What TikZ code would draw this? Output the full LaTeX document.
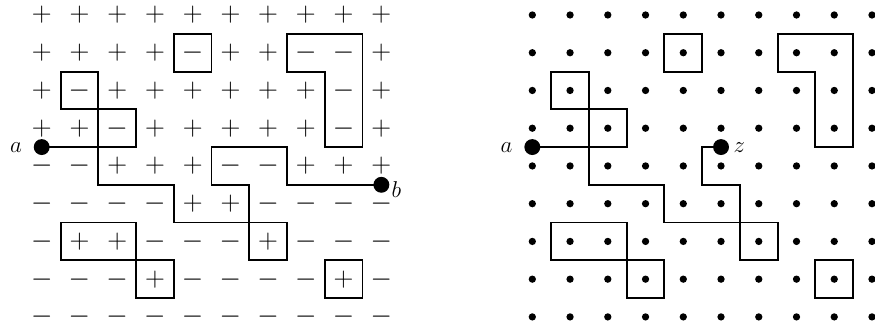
\documentclass[tikz,border=0pt]{standalone}
\usetikzlibrary{positioning}

\begin{document}
\begin{tikzpicture}[
    sgn/.style={inner sep=0pt, font=\fontsize{20.5}{24}\selectfont},
    site/.style={circle, fill, minimum size=5.5pt, inner sep=0pt},
    endpt/.style={circle, fill, minimum size=12pt, inner sep=0pt},
    lbl/.style={inner sep=0pt, font=\fontsize{18}{21}\selectfont},
    wall/.style={line width=1.4pt},
    ]
    \useasboundingbox (-1.105,0.397) rectangle (22.08,-8.135);

    % spins of the left sample
    \foreach \row [count=\j from 0] in {
        {+,+,+,+,+,+,+,+,+,+},
        {+,+,+,+,-,+,+,-,-,+},
        {+,-,+,+,+,+,+,+,-,+},
        {+,+,-,+,+,+,+,+,-,+},
        {-,-,+,+,+,-,-,+,+,+},
        {-,-,-,-,+,+,-,-,-,-},
        {-,+,+,-,-,-,+,-,-,-},
        {-,-,-,+,-,-,-,-,+,-},
        {-,-,-,-,-,-,-,-,-,-}}{
        \foreach \s [count=\i from 0] in \row
            \node[sgn] (s-\i-\j) at (\i,-\j) {$\s$};
    }

    % sites of the right sample
    \foreach \i in {0,...,9}
        \foreach \j in {0,...,8}
            \node[site] (d-\i-\j) at (13+\i,-\j) {};

    % end points
    \node[endpt] (a)  at (0,-3.5)  {};
    \node[endpt] (b)  at (9,-4.5)  {};
    \node[endpt] (a2) at (13,-3.5) {};
    \node[endpt] (z)  at (18,-3.5) {};
    \node[lbl, left=0.30cm of a]  (la)  {$a$};
    \node[lbl, left=0.30cm of a2] (la2) {$a$};
    \node[lbl] (lb) at ([shift={(0.4,-0.12)}]b) {$b$};
    \node[lbl, right=0.11cm of z] (lz) {$z$};

    % closed contours (same in both samples)
    \foreach \dx in {0,13}{
        \begin{scope}[xshift=\dx cm]
            \draw[wall] (0.5,-1.5) rectangle (1.5,-2.5);
            \draw[wall] (1.5,-2.5) rectangle (2.5,-3.5);
            \draw[wall] (3.5,-0.5) rectangle (4.5,-1.5);
            \draw[wall] (6.5,-0.5) -- (8.5,-0.5) -- (8.5,-3.5) -- (7.5,-3.5)
                        -- (7.5,-1.5) -- (6.5,-1.5) -- cycle;
            \draw[wall] (0.5,-5.5) rectangle (2.5,-6.5);
            \draw[wall] (2.5,-6.5) rectangle (3.5,-7.5);
            \draw[wall] (5.5,-5.5) rectangle (6.5,-6.5);
            \draw[wall] (7.5,-6.5) rectangle (8.5,-7.5);
        \end{scope}
    }

    % interface a -> b
    \draw[wall] (a.center) -- (1.5,-3.5) -- (1.5,-4.5) -- (3.5,-4.5)
                -- (3.5,-5.5) -- (5.5,-5.5) -- (5.5,-4.5) -- (4.5,-4.5)
                -- (4.5,-3.5) -- (6.5,-3.5) -- (6.5,-4.5) -- (b.center);
    % path a -> z
    \draw[wall] (a2.center) -- (14.5,-3.5) -- (14.5,-4.5) -- (16.5,-4.5)
                -- (16.5,-5.5) -- (18.5,-5.5) -- (18.5,-4.5) -- (17.5,-4.5)
                -- (17.5,-3.5) -- (z.center);
\end{tikzpicture}
\end{document}
